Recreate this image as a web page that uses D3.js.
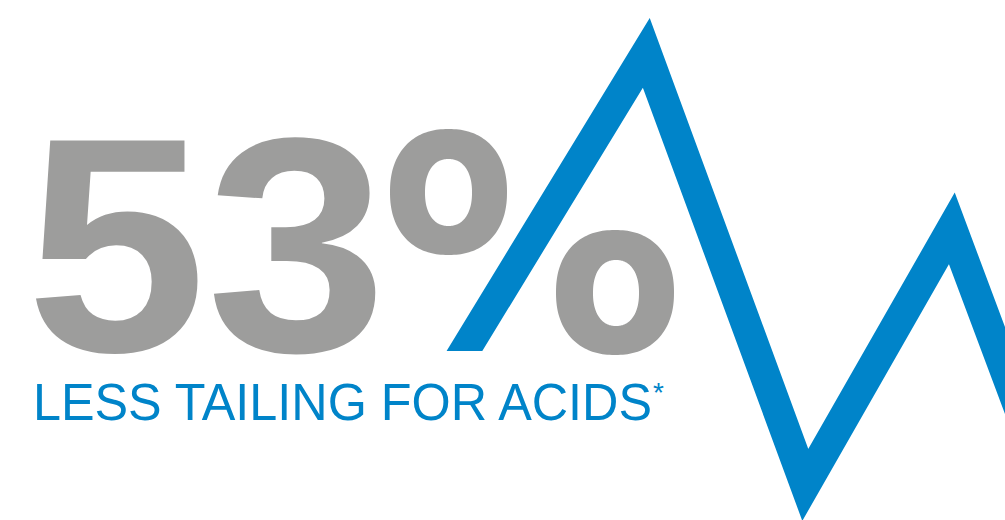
<!DOCTYPE html>
<html>
<head>
<meta charset="utf-8">
<script src="https://cdn.jsdelivr.net/npm/d3@7"></script>
<style>
  html, body { margin: 0; padding: 0; background: #ffffff; }
  svg { display: block; }
</style>
</head>
<body>
<div id="chart"></div>
<script>
// ---- data ----
const headlineValue = "53";
const headlineUnit = "%";
const labelText = "LESS TAILING FOR ACIDS";
const footnoteMark = "*";

// zig-zag "peak trace" (abstract time / response units)
const traceTime = [43.24, 64.31, 80.13, 94.71, 105.56];
const traceResponse = [23.08, 89.83, 6.75, 56.08, 0];
const traceBaseline = 32.5;   // response level where the first leg is cut

// ---- layout ----
const W = 1005, H = 520;
const blue = "#0084c9";
const grey = "#9d9d9c";

const x = d3.scaleLinear().domain([0, 100]).range([0, W]);
const y = d3.scaleLinear().domain([0, 100]).range([H, 0]);

const svg = d3.select("#chart").append("svg")
  .attr("width", W).attr("height", H)
  .attr("viewBox", `0 0 ${W} ${H}`);

// clip: the first leg is cut flat at the baseline
const defs = svg.append("defs");
const cp = defs.append("clipPath").attr("id", "traceClip");
cp.append("rect").attr("x", 0).attr("y", 0).attr("width", W).attr("height", y(traceBaseline));
cp.append("rect").attr("x", x(60)).attr("y", 0).attr("width", W - x(60)).attr("height", H);

const trace = traceTime.map((t, i) => [t, traceResponse[i]]);
const line = d3.line().x(d => x(d[0])).y(d => y(d[1]));

// headline digits
svg.append("text")
  .attr("x", 26).attr("y", 351)
  .attr("font-family", "'Liberation Sans', Arial, Helvetica, sans-serif")
  .attr("font-weight", "bold")
  .attr("font-size", 306)
  .attr("fill", grey)
  .attr("textLength", 361)
  .attr("lengthAdjust", "spacingAndGlyphs")
  .text(headlineValue);

// percent sign rings (the slash is the blue trace)
function superEllipse(cx, cy, rx, ry, n, steps) {
  const pts = d3.range(steps).map(i => {
    const a = (i / steps) * 2 * Math.PI;
    const c = Math.cos(a), s = Math.sin(a);
    return [cx + rx * Math.sign(c) * Math.pow(Math.abs(c), 2 / n),
            cy + ry * Math.sign(s) * Math.pow(Math.abs(s), 2 / n)];
  });
  return "M" + pts.map(p => p.join(",")).join("L") + "Z";
}
const rings = [
  {outer: [448.5, 192, 58.5, 63], inner: [448.5, 192.5, 23.5, 33.5]},
  {outer: [615, 292.5, 59, 62.5], inner: [616, 293, 23, 33]}
];
svg.append("g").attr("class", "percent")
  .attr("aria-label", headlineUnit)
  .selectAll("path").data(rings).join("path")
  .attr("d", d => superEllipse(...d.outer, 2.25, 180) + superEllipse(...d.inner, 2.25, 180))
  .attr("fill-rule", "evenodd")
  .attr("fill", grey);

// blue trace
svg.append("path")
  .datum(trace)
  .attr("d", line)
  .attr("clip-path", "url(#traceClip)")
  .attr("fill", "none")
  .attr("stroke", blue)
  .attr("stroke-width", 30.5)
  .attr("stroke-linejoin", "miter")
  .attr("stroke-miterlimit", 10);

// label with superscript footnote mark
const label = svg.append("text")
  .attr("x", 33).attr("y", 420)
  .attr("font-family", "'Liberation Sans', Arial, Helvetica, sans-serif")
  .attr("font-size", 52.5)
  .attr("fill", blue);
label.append("tspan")
  .attr("textLength", 619)
  .attr("lengthAdjust", "spacingAndGlyphs")
  .text(labelText);
label.append("tspan")
  .attr("x", 653).attr("y", 402)
  .attr("font-size", 28)
  .text(footnoteMark);
</script>
</body>
</html>
